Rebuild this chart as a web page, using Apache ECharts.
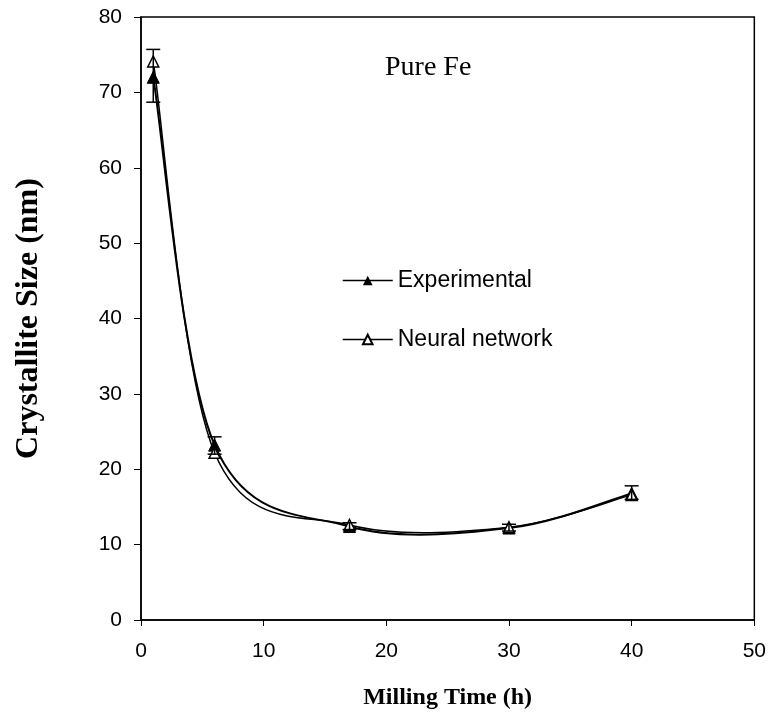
<!DOCTYPE html>
<html>
<head>
<meta charset="utf-8">
<script src="https://cdn.jsdelivr.net/npm/echarts@6/dist/echarts.min.js"></script>
<style>
html, body { margin: 0; padding: 0; background: #fff; }
#main { width: 769px; height: 720px; }
</style>
</head>
<body>
<div id="main"></div>
<script>
// milling time (h)
var hours = [1, 6, 17, 30, 40];
// crystallite size (nm)
var experimental = [72, 23.2, 12.4, 12.2, 16.8];
var neuralNet = [74.1, 22.2, 12.6, 12.3, 16.6];
// error bars on experimental points
var errLow = [68.7, 22.0, 12.0, 11.8, 16.0];
var errHigh = [75.7, 24.3, 12.9, 12.7, 17.8];

var xTicks = { min: 0, max: 50, interval: 10 };
var yTicks = { min: 0, max: 80, interval: 10 };

function pairs(xs, ys) {
	var out = [];
	for (var i = 0; i < xs.length; i++) {
		out.push([xs[i], ys[i]]);
	}
	return out;
}

var errData = [];
for (var i = 0; i < hours.length; i++) {
	errData.push([hours[i], errLow[i], errHigh[i]]);
}

// excel-like smoothed line (catmull-rom through the points, in pixel space)
function smoothCurve(ys, width) {
	return function (params, api) {
		if (params.dataIndex !== 0) return null;
		var p = [];
		for (var i = 0; i < hours.length; i++) {
			p.push(api.coord([hours[i], ys[i]]));
		}
		var path = 'M' + p[0][0] + ',' + p[0][1];
		for (var i = 0; i < p.length - 1; i++) {
			var p0 = p[i - 1] || p[i];
			var p1 = p[i];
			var p2 = p[i + 1];
			var p3 = p[i + 2] || p[i + 1];
			var c1x = p1[0] + (p2[0] - p0[0]) / 6;
			var c1y = p1[1] + (p2[1] - p0[1]) / 6;
			var c2x = p2[0] - (p3[0] - p1[0]) / 6;
			var c2y = p2[1] - (p3[1] - p1[1]) / 6;
			path += ' C' + c1x + ',' + c1y + ' ' + c2x + ',' + c2y + ' ' + p2[0] + ',' + p2[1];
		}
		return {
			type: 'path',
			shape: { pathData: path },
			style: { fill: null, stroke: '#000', lineWidth: width }
		};
	};
}

var chart = echarts.init(document.getElementById('main'));

var tickFont = { color: '#000', fontSize: 21, fontFamily: 'Liberation Sans' };

chart.setOption({
	animation: false,
	title: {
		text: 'Pure Fe',
		left: 380,
		top: 49,
		textStyle: { fontFamily: 'Liberation Serif', fontWeight: 'normal', fontSize: 28, color: '#000' }
	},
	legend: {
		orient: 'vertical',
		left: 337,
		top: 264,
		itemWidth: 50,
		itemHeight: 12,
		itemGap: 36,
		data: ['Experimental', 'Neural network'],
		lineStyle: { color: '#000', width: 1.5, opacity: 1 },
		textStyle: { fontFamily: 'Liberation Sans', fontSize: 23, color: '#000' }
	},
	grid: {
		left: 141,
		right: 14,
		top: 17,
		bottom: 100,
		show: true,
		borderColor: '#000',
		borderWidth: 1.5
	},
	xAxis: {
		type: 'value',
		min: xTicks.min,
		max: xTicks.max,
		interval: xTicks.interval,
		name: 'Milling Time (h)',
		nameLocation: 'middle',
		nameGap: 66,
		nameTextStyle: { fontFamily: 'Liberation Serif', fontWeight: 'bold', fontSize: 24, color: '#000' },
		axisLine: { lineStyle: { color: '#000', width: 1.5 } },
		axisTick: { length: 6, lineStyle: { color: '#000' } },
		axisLabel: Object.assign({ margin: 21 }, tickFont),
		splitLine: { show: false }
	},
	yAxis: {
		type: 'value',
		min: yTicks.min,
		max: yTicks.max,
		interval: yTicks.interval,
		name: 'Crystallite Size (nm)',
		nameLocation: 'middle',
		nameGap: 96,
		nameTextStyle: { fontFamily: 'Liberation Serif', fontWeight: 'bold', fontSize: 32, color: '#000' },
		axisLine: { show: true, lineStyle: { color: '#000', width: 1.5 } },
		axisTick: { show: true, length: 7, lineStyle: { color: '#000' } },
		axisLabel: Object.assign({ margin: 19 }, tickFont),
		splitLine: { show: false }
	},
	series: [
		{
			name: 'exp-curve',
			type: 'custom',
			data: pairs(hours, experimental),
			renderItem: smoothCurve(experimental, 2),
			silent: true,
			z: 2
		},
		{
			name: 'nn-curve',
			type: 'custom',
			data: pairs(hours, neuralNet),
			renderItem: smoothCurve(neuralNet, 1.5),
			silent: true,
			z: 2
		},
		{
			name: 'Experimental',
			type: 'line',
			data: pairs(hours, experimental),
			symbol: 'triangle',
			symbolSize: [12, 12],
			itemStyle: { color: '#000', borderColor: '#000' },
			lineStyle: { color: '#000', width: 2, opacity: 0 },
			z: 3
		},
		{
			name: 'Neural network',
			type: 'line',
			data: pairs(hours, neuralNet),
			symbol: 'triangle',
			symbolSize: [11, 11],
			itemStyle: { color: '#fff', borderColor: '#000', borderWidth: 1.5 },
			lineStyle: { color: '#000', width: 1.5, opacity: 0 },
			z: 4
		},
		{
			name: 'error',
			type: 'custom',
			data: errData,
			z: 5,
			renderItem: function (params, api) {
				var x = api.value(0);
				var lo = api.coord([x, api.value(1)]);
				var hi = api.coord([x, api.value(2)]);
				var half = 7;
				var st = { stroke: '#000', lineWidth: 1.5 };
				return {
					type: 'group',
					children: [
						{ type: 'line', shape: { x1: lo[0], y1: lo[1], x2: hi[0], y2: hi[1] }, style: st },
						{ type: 'line', shape: { x1: lo[0] - half, y1: lo[1], x2: lo[0] + half, y2: lo[1] }, style: st },
						{ type: 'line', shape: { x1: hi[0] - half, y1: hi[1], x2: hi[0] + half, y2: hi[1] }, style: st }
					]
				};
			}
		}
	]
});
</script>
</body>
</html>
